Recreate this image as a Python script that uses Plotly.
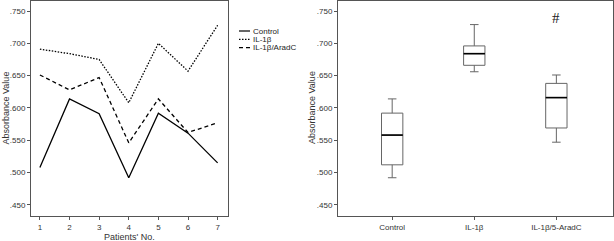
import plotly.graph_objects as go

# ---------------- data ----------------
patients = [1, 2, 3, 4, 5, 6, 7]
control = [0.508, 0.614, 0.591, 0.492, 0.592, 0.561, 0.515]
il1b = [0.691, 0.684, 0.675, 0.608, 0.700, 0.657, 0.728]
il1b_aradc = [0.651, 0.628, 0.647, 0.546, 0.614, 0.562, 0.577]

box_categories = ["Control", "IL-1β", "IL-1β/5-AradC"]
box_min = [0.492, 0.656, 0.547]
box_q1 = [0.512, 0.666, 0.569]
box_median = [0.558, 0.684, 0.616]
box_q3 = [0.592, 0.696, 0.638]
box_max = [0.614, 0.729, 0.651]

ytick_vals = [0.45, 0.50, 0.55, 0.60, 0.65, 0.70, 0.75]
ytick_text = [".450", ".500", ".550", ".600", ".650", ".700", ".750"]
legend_names = ["Control", "IL-1β", "IL-1β/AradC"]
legend_dash = ["solid", "1.5px,1.5px", "4px,3px"]
sig_label = "#"
sig_category = "IL-1β/5-AradC"
sig_y = 0.739

FONT = "Liberation Sans, Arial, sans-serif"
W, H = 614, 241
ML, MR, MT, MB = 31, 1, 1, 25
PW = W - ML - MR
PH = H - MT - MB

def px_x(p):
    return (p - ML) / PW

def px_y(p):
    return (H - MB - p) / PH

fig = go.Figure()

series = [control, il1b, il1b_aradc]
for name, vals, dash in zip(legend_names, series, legend_dash):
    fig.add_trace(go.Scatter(
        x=patients, y=vals, mode="lines", name=name,
        line=dict(color="black", width=1.3, dash=dash),
        xaxis="x", yaxis="y", showlegend=False))

for i, cat in enumerate(box_categories):
    fig.add_trace(go.Box(
        x=[cat], q1=[box_q1[i]], median=[box_median[i]], q3=[box_q3[i]],
        lowerfence=[box_min[i]], upperfence=[box_max[i]],
        fillcolor="white", line=dict(color="#666666", width=1),
        width=0.26, whiskerwidth=0.4, boxpoints=False,
        xaxis="x2", yaxis="y2", showlegend=False, hoverinfo="skip"))

shapes = []
for i, cat in enumerate(box_categories):
    shapes.append(dict(type="line", xref="x2", yref="y2",
                       x0=i - 0.13, x1=i + 0.13,
                       y0=box_median[i], y1=box_median[i],
                       line=dict(color="black", width=1.6)))

annotations = []
leg_y = [31, 39.3, 47.6]
for name, dash, yy in zip(legend_names, legend_dash, leg_y):
    shapes.append(dict(type="line", xref="paper", yref="paper",
                       x0=px_x(239), x1=px_x(250), y0=px_y(yy), y1=px_y(yy),
                       line=dict(color="black", width=1.2, dash=dash)))
    annotations.append(dict(xref="paper", yref="paper", x=px_x(251), y=px_y(yy),
                            text=name, showarrow=False, xanchor="left", yanchor="middle",
                            font=dict(family=FONT, size=8, color="#222")))

annotations.append(dict(xref="x2", yref="y2", x=sig_category, y=sig_y, text=sig_label,
                        showarrow=False, font=dict(family="Liberation Serif, serif", size=15, color="#222")))

title_font = dict(family=FONT, size=9, color="#333")
annotations.append(dict(xref="paper", yref="paper", x=px_x(129.5), y=px_y(236.5),
                        text="Patients' No.", showarrow=False, xanchor="center", yanchor="middle",
                        font=title_font))
for xp in (5.5, 312):
    annotations.append(dict(xref="paper", yref="paper", x=px_x(xp), y=px_y(108),
                            text="Absorbance Value", showarrow=False, textangle=-90,
                            xanchor="center", yanchor="middle", font=title_font))

axis_common = dict(showline=True, linecolor="#555555", linewidth=1, mirror=True,
                   ticks="outside", ticklen=3, tickcolor="#555555",
                   showgrid=False, zeroline=False,
                   tickfont=dict(family=FONT, size=8, color="#333"))

fig.update_layout(
    width=W, height=H, margin=dict(l=ML, r=MR, t=MT, b=MB, autoexpand=False),
    paper_bgcolor="white", plot_bgcolor="white",
    shapes=shapes, annotations=annotations,
    xaxis=dict(domain=[0, px_x(228)], range=[0.7, 7.35], tickvals=patients,
               anchor="y", **axis_common),
    yaxis=dict(domain=[0, 1], range=[0.4328, 0.7655], tickvals=ytick_vals, ticktext=ytick_text,
               anchor="x", **axis_common),
    xaxis2=dict(domain=[px_x(338), 1], range=[-0.66, 2.69], type="category",
                categoryorder="array", categoryarray=box_categories,
                anchor="y2", **axis_common),
    yaxis2=dict(domain=[0, 1], range=[0.4328, 0.7655], tickvals=ytick_vals, ticktext=ytick_text,
                anchor="x2", **axis_common),
)

fig.write_html("out.html", config={"displayModeBar": False},
               post_script="document.body.style.margin='0';document.body.style.overflow='hidden';")
